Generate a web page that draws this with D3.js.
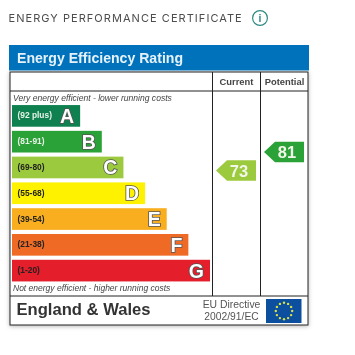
<!DOCTYPE html>
<html>
<head>
<meta charset="utf-8">
<script src="https://d3js.org/d3.v7.min.js"></script>
<style>
  html, body { margin: 0; padding: 0; background: #fff; }
  svg { display: block; filter: blur(0.45px); }
  text { font-family: "Liberation Sans", Arial, sans-serif; }
</style>
</head>
<body>
<script>
const w = 355, h = 355;

// rating bands, top to bottom
const letters = ['A', 'B', 'C', 'D', 'E', 'F', 'G'];
const ranges = ['(92 plus)', '(81-91)', '(69-80)', '(55-68)', '(39-54)', '(21-38)', '(1-20)'];
const barLengths = [1, 2, 3, 4, 5, 6, 7];
const barColors = ['#0f8150', '#2ba237', '#9cca3e', '#fff200', '#f8ae1f', '#ef6a25', '#e41e2b'];
const rangeColors = ['#e8f3e8', '#e8f3e8', '#222', '#222', '#222', '#222', '#222'];

const scoreColumns = ['Current', 'Potential'];
const scores = [73, 81];
const scoreColors = ['#9cca3e', '#2ba237'];

const svg = d3.select('body').append('svg')
    .attr('width', w)
    .attr('height', h);

const defs = svg.append('defs');
const shadow = defs.append('filter').attr('id', 'shadow')
    .attr('x', '-5%').attr('y', '-5%').attr('width', '110%').attr('height', '110%');
shadow.append('feDropShadow')
    .attr('dx', 0).attr('dy', 1).attr('stdDeviation', 2)
    .attr('flood-color', '#000').attr('flood-opacity', 0.28);

// page heading
svg.append('text')
    .attr('x', 8.5).attr('y', 22)
    .style('font-family', 'Inter, sans-serif')
    .style('font-size', '11px')
    .style('letter-spacing', '1.05px')
    .attr('fill', '#4d4d4d')
    .text('ENERGY PERFORMANCE CERTIFICATE');

svg.append('circle')
    .attr('cx', 260).attr('cy', 18).attr('r', 7.4)
    .attr('fill', 'none').attr('stroke', '#2f8a83').attr('stroke-width', 1.2);
svg.append('text')
    .attr('x', 260).attr('y', 22)
    .attr('text-anchor', 'middle')
    .style('font-size', '10.5px').style('font-weight', 'bold')
    .attr('fill', '#2f8a83')
    .text('i');

// certificate frame
svg.append('rect')
    .attr('x', 10).attr('y', 72).attr('width', 298).attr('height', 253)
    .attr('fill', '#fff').attr('stroke', '#222').attr('stroke-width', 1)
    .attr('filter', 'url(#shadow)');

svg.append('rect')
    .attr('x', 9).attr('y', 45).attr('width', 300).attr('height', 25.5)
    .attr('fill', '#0072bc');
svg.append('text')
    .attr('x', 17).attr('y', 62.5)
    .style('font-size', '14.1px').style('font-weight', 'bold')
    .attr('fill', '#e6f2fa')
    .text('Energy Efficiency Rating');

const rules = [
    [10, 91, 308, 91],
    [212.5, 72, 212.5, 296],
    [260.5, 72, 260.5, 296],
    [10, 296, 308, 296]
];
svg.selectAll('line.rule').data(rules).join('line')
    .attr('class', 'rule')
    .attr('x1', d => d[0]).attr('y1', d => d[1])
    .attr('x2', d => d[2]).attr('y2', d => d[3])
    .attr('stroke', '#222').attr('stroke-width', 1);

// column headings
const colX = d3.scaleOrdinal().domain(scoreColumns).range([236.5, 284.5]);
svg.selectAll('text.col').data(scoreColumns).join('text')
    .attr('class', 'col')
    .attr('x', d => colX(d)).attr('y', 85)
    .attr('text-anchor', 'middle')
    .style('font-size', '9.4px').style('font-weight', 'bold')
    .attr('fill', '#444')
    .text(d => d);

svg.append('text')
    .attr('x', 13).attr('y', 100.5)
    .style('font-size', '8.55px').style('font-style', 'italic')
    .attr('fill', '#444')
    .text('Very energy efficient - lower running costs');
svg.append('text')
    .attr('x', 13).attr('y', 291)
    .style('font-size', '8.5px').style('font-style', 'italic')
    .attr('fill', '#444')
    .text('Not energy efficient - higher running costs');

// bars
const y = d3.scaleBand().domain(letters).range([103, 283.5]).paddingInner(0.16).paddingOuter(0.08);
const x = d3.scaleLinear().domain([0, 7]).range([58.5, 210]);

const rows = svg.selectAll('g.row').data(letters).join('g')
    .attr('class', 'row')
    .attr('transform', d => `translate(0,${y(d)})`);

rows.append('rect')
    .attr('x', 12)
    .attr('width', (d, i) => x(barLengths[i]) - 12)
    .attr('height', y.bandwidth())
    .attr('fill', (d, i) => barColors[i]);

rows.append('text')
    .attr('x', 17.5)
    .attr('y', y.bandwidth() / 2 + 2.5)
    .style('font-size', '8.4px').style('font-weight', 'bold')
    .attr('fill', (d, i) => rangeColors[i])
    .text((d, i) => ranges[i]);

rows.append('text')
    .attr('x', (d, i) => x(barLengths[i]) - 6)
    .attr('y', y.bandwidth() / 2 + 7)
    .attr('text-anchor', 'end')
    .style('font-size', '19.5px').style('font-weight', 'bold')
    .attr('fill', '#fff')
    .attr('stroke', '#555').attr('stroke-width', 1.6)
    .attr('paint-order', 'stroke')
    .text(d => d);

// score arrows
const scoreY = d3.scaleLinear().domain([81, 73]).range([152, 170.5]);
const flagW = 40, flagH = 20.5, tip = 11;
const arrow = d3.line();

const flags = svg.selectAll('g.score').data(scores).join('g')
    .attr('class', 'score')
    .attr('transform', (d, i) => `translate(${colX(scoreColumns[i]) - 20.5},${scoreY(d)})`);

flags.append('path')
    .attr('d', arrow([[0, 0], [tip, -flagH / 2], [flagW, -flagH / 2], [flagW, flagH / 2], [tip, flagH / 2]]) + 'Z')
    .attr('fill', (d, i) => scoreColors[i]);

flags.append('text')
    .attr('x', 23).attr('y', 6)
    .attr('text-anchor', 'middle')
    .style('font-size', '16.5px').style('font-weight', 'bold')
    .attr('fill', '#f2f7ea')
    .text(d => d);

// footer
svg.append('text')
    .attr('x', 16.5).attr('y', 315)
    .style('font-size', '16.6px').style('font-weight', 'bold')
    .attr('fill', '#333')
    .text('England & Wales');
svg.append('text')
    .attr('x', 231.5).attr('y', 308)
    .attr('text-anchor', 'middle')
    .style('font-size', '10.4px')
    .attr('fill', '#555')
    .text('EU Directive');
svg.append('text')
    .attr('x', 231.5).attr('y', 320)
    .attr('text-anchor', 'middle')
    .style('font-size', '10.3px')
    .attr('fill', '#555')
    .text('2002/91/EC');

svg.append('rect')
    .attr('x', 266).attr('y', 299).attr('width', 35.5).attr('height', 24)
    .attr('fill', '#0c4f9e');
svg.selectAll('circle.star').data(d3.range(12)).join('circle')
    .attr('class', 'star')
    .attr('cx', d => 284 + 8.2 * Math.cos(d * Math.PI / 6))
    .attr('cy', d => 311 + 8.2 * Math.sin(d * Math.PI / 6))
    .attr('r', 1.2)
    .attr('fill', '#d6e04a');
</script>
</body>
</html>
